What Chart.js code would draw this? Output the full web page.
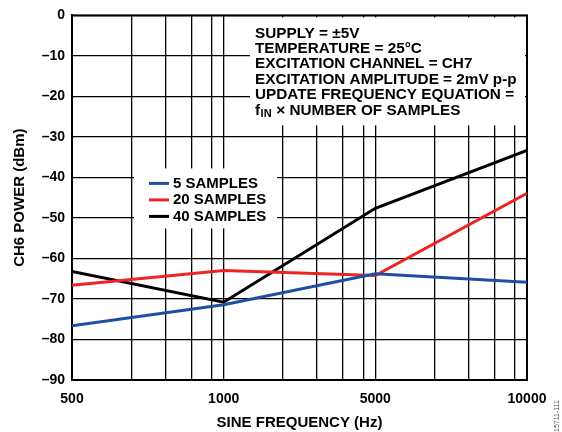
<!DOCTYPE html>
<html>
<head>
<meta charset="utf-8">
<script src="https://cdn.jsdelivr.net/npm/chart.js@4.4.0/dist/chart.umd.min.js"></script>
<style>
  html, body { margin: 0; padding: 0; background: #fff; }
</style>
</head>
<body>
<canvas id="myChart" width="562" height="432"></canvas>
<script>
// data
var freqLabels = ['500', '1000', '5000', '10000'];
var samples5 = [-76.6, -71.4, -63.8, -65.9];
var samples20 = [-66.6, -63.0, -64.2, -43.9];
var samples40 = [-63.2, -70.8, -47.6, -33.3];
var seriesNames = ['5 SAMPLES', '20 SAMPLES', '40 SAMPLES'];
var noteLines = [
    'SUPPLY = \u00B15V',
    'TEMPERATURE = 25\u00B0C',
    'EXCITATION CHANNEL = CH7',
    'EXCITATION AMPLITUDE = 2mV p-p',
    'UPDATE FREQUENCY EQUATION ='
];

var FONT = "'Liberation Sans', Arial, sans-serif";
var minorFractions = [0.39, 0.615, 0.787, 0.92];

var gridPositions = [];
for (var i = 0; i < freqLabels.length; i++) {
    gridPositions.push(i);
    if (i < freqLabels.length - 1) {
        minorFractions.forEach(function(f) { gridPositions.push(i + f); });
    }
}

function toPoints(arr) {
    return arr.map(function(v, i) { return {x: i, y: v}; });
}

var overlayPlugin = {
    id: 'overlay',
    beforeDatasetsDraw: function(chart) {
        var c = chart.ctx;
        var a = chart.chartArea;
        c.save();
        // note box
        c.fillStyle = '#fff';
        c.fillRect(a.left + 178, a.top + 2, a.right - a.left - 180, 108);
        // legend box
        c.fillRect(a.left + 62, a.top + 153, 143, 60);

        c.fillStyle = '#000';
        c.font = 'bold 15.3px ' + FONT;
        c.textBaseline = 'middle';
        c.textAlign = 'left';
        var nx = a.left + 183;
        for (var k = 0; k < noteLines.length; k++) {
            c.fillText(noteLines[k], nx, a.top + 18 + k * 15.4);
        }
        var ly = a.top + 18 + 5 * 15.4;
        c.fillText('f', nx, ly);
        var fw = c.measureText('f').width;
        c.font = 'bold 11px ' + FONT;
        c.fillText('IN', nx + fw + 0.5, ly + 4);
        var iw = c.measureText('IN').width;
        c.font = 'bold 15.3px ' + FONT;
        c.fillText(' \u00D7 NUMBER OF SAMPLES', nx + fw + iw + 1, ly);

        // legend
        c.font = 'bold 15px ' + FONT;
        chart.data.datasets.forEach(function(ds, j) {
            var y = a.top + 168 + j * 16.5;
            c.strokeStyle = ds.borderColor;
            c.lineWidth = 3;
            c.beginPath();
            c.moveTo(a.left + 77, y);
            c.lineTo(a.left + 97, y);
            c.stroke();
            c.fillStyle = '#000';
            c.fillText(ds.label, a.left + 101, y);
        });

        // frame
        c.strokeStyle = '#000';
        c.lineWidth = 2;
        c.strokeRect(a.left, a.top, a.right - a.left, a.bottom - a.top);

        // figure id
        c.translate(557, 432);
        c.rotate(-Math.PI / 2);
        c.font = '7px ' + FONT;
        c.fillStyle = '#555';
        c.fillText('15711-111', 0, 0);
        c.restore();
    }
};

var ctx = document.getElementById('myChart');
var myChart = new Chart(ctx, {
    type: 'line',
    data: {
        datasets: [{
            label: seriesNames[0],
            data: toPoints(samples5),
            borderColor: '#1f4fa0',
            borderWidth: 3,
            pointRadius: 0
        }, {
            label: seriesNames[1],
            data: toPoints(samples20),
            borderColor: '#ee2424',
            borderWidth: 3,
            pointRadius: 0
        }, {
            label: seriesNames[2],
            data: toPoints(samples40),
            borderColor: '#000000',
            borderWidth: 3,
            pointRadius: 0
        }]
    },
    options: {
        responsive: false,
        animation: false,
        layout: { padding: { left: 0, right: 35, top: 15, bottom: 0 } },
        plugins: {
            legend: { display: false },
            tooltip: { enabled: false }
        },
        scales: {
            x: {
                type: 'linear',
                min: 0,
                max: freqLabels.length - 1,
                afterBuildTicks: function(scale) {
                    scale.ticks = gridPositions.map(function(v) { return {value: v}; });
                },
                afterFit: function(scale) { scale.height = 52; },
                ticks: {
                    autoSkip: false,
                    maxRotation: 0,
                    padding: 11,
                    color: '#000',
                    font: { family: FONT, size: 14, weight: 'bold' },
                    callback: function(value) {
                        return Number.isInteger(value) ? freqLabels[value] : '';
                    }
                },
                grid: { color: '#000', lineWidth: 1.3, drawTicks: false },
                border: { color: '#000', width: 2 },
                title: {
                    display: true,
                    text: 'SINE FREQUENCY (Hz)',
                    color: '#000',
                    font: { family: FONT, size: 15, weight: 'bold' },
                    padding: { top: 0, bottom: 0 }
                }
            },
            y: {
                min: -90,
                max: 0,
                afterFit: function(scale) { scale.width = 72; },
                ticks: {
                    stepSize: 10,
                    padding: 7,
                    color: '#000',
                    font: { family: FONT, size: 14, weight: 'bold' },
                    callback: function(value) {
                        return value < 0 ? '\u2013' + Math.abs(value) : String(value);
                    }
                },
                grid: { color: '#000', lineWidth: 1.3, drawTicks: false },
                border: { color: '#000', width: 2 },
                title: {
                    display: true,
                    text: 'CH6 POWER (dBm)',
                    color: '#000',
                    font: { family: FONT, size: 15, weight: 'bold' },
                    padding: { top: 11, bottom: 0 }
                }
            }
        }
    },
    plugins: [overlayPlugin]
});
</script>
</body>
</html>
